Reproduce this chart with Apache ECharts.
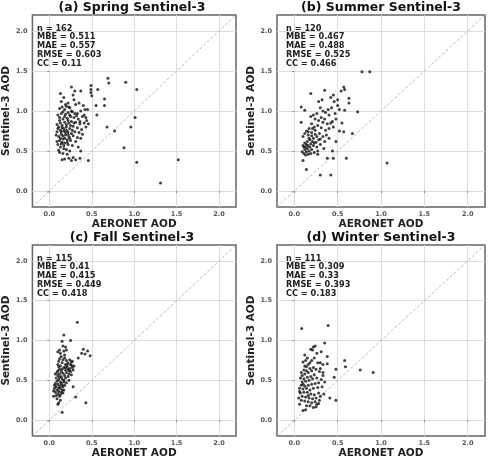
<!DOCTYPE html>
<html>
<head>
<meta charset="utf-8">
<script src="https://cdn.jsdelivr.net/npm/echarts@6/dist/echarts.min.js"></script>
<style>
html, body { margin: 0; padding: 0; background: #fff; }
#main { width: 493px; height: 460px; }
</style>
</head>
<body>
<div id="main"></div>
<script>
// 坐标轴刻度
var tickValues = [0, 0.5, 1.0, 1.5, 2.0];
var axisRange = [-0.2, 2.2];
var panelTitles = ['(a) Spring Sentinel-3', '(b) Summer Sentinel-3', '(c) Fall Sentinel-3', '(d) Winter Sentinel-3'];
var statsSpring = ['n = 162', 'MBE = 0.511', 'MAE = 0.557', 'RMSE = 0.603', 'CC = 0.11'];
var statsSummer = ['n = 120', 'MBE = 0.467', 'MAE = 0.488', 'RMSE = 0.525', 'CC = 0.466'];
var statsFall = ['n = 115', 'MBE = 0.41', 'MAE = 0.415', 'RMSE = 0.449', 'CC = 0.418'];
var statsWinter = ['n = 111', 'MBE = 0.309', 'MAE = 0.33', 'RMSE = 0.393', 'CC = 0.183'];

// [AERONET AOD, Sentinel-3 AOD]
var springPts = [
  [0.13,1.22],[0.17,1.17],[0.26,1.30],[0.30,1.25],[0.37,1.25],[0.28,1.20],[0.29,1.14],[0.22,1.10],[0.20,1.06],[0.15,1.05],
  [0.12,1.03],[0.18,1.02],[0.24,1.04],[0.31,1.08],[0.35,1.10],[0.40,1.07],[0.42,1.02],[0.37,1.00],[0.33,0.97],[0.27,0.99],
  [0.22,0.98],[0.19,0.96],[0.14,0.97],[0.10,0.95],[0.12,0.92],[0.16,0.90],[0.21,0.91],[0.25,0.93],[0.29,0.92],[0.34,0.90],
  [0.39,0.93],[0.44,0.88],[0.41,0.85],[0.36,0.84],[0.31,0.86],[0.26,0.87],[0.23,0.85],[0.18,0.86],[0.13,0.85],[0.09,0.83],
  [0.11,0.80],[0.15,0.79],[0.20,0.80],[0.24,0.78],[0.28,0.81],[0.33,0.79],[0.38,0.77],[0.43,0.80],[0.35,0.73],[0.30,0.74],
  [0.26,0.72],[0.22,0.74],[0.17,0.75],[0.13,0.76],[0.09,0.74],[0.08,0.70],[0.11,0.68],[0.14,0.71],[0.19,0.70],[0.23,0.68],
  [0.28,0.69],[0.33,0.67],[0.37,0.66],[0.31,0.62],[0.25,0.63],[0.21,0.64],[0.16,0.65],[0.12,0.63],[0.09,0.62],[0.10,0.58],
  [0.14,0.59],[0.18,0.60],[0.22,0.58],[0.27,0.57],[0.34,0.55],[0.13,0.55],[0.17,0.53],[0.11,0.51],[0.20,0.52],[0.24,0.50],
  [0.37,0.50],[0.16,0.47],[0.21,0.46],[0.12,0.48],[0.15,0.39],[0.18,0.40],[0.23,0.41],[0.26,0.38],[0.28,0.42],[0.31,0.39],
  [0.36,0.41],[0.46,0.38],[0.15,0.82],[0.17,0.78],[0.19,0.73],[0.16,0.69],[0.14,0.74],[0.18,0.66],[0.20,0.83],[0.22,0.88],
  [0.24,0.95],[0.26,1.00],[0.19,1.08],[0.23,1.05],[0.25,0.82],[0.27,0.76],[0.29,0.85],[0.32,0.94],[0.12,0.88],[0.10,0.78],
  [0.13,0.66],[0.15,0.61],[0.17,0.57],[0.21,0.61],[0.20,0.76],[0.22,0.71],[0.24,0.66],[0.18,0.93],[0.16,0.99],[0.14,1.12],
  [0.36,0.87],[0.30,0.97],[0.39,0.71],[0.49,1.32],[0.49,1.27],[0.49,1.23],[0.50,1.19],[0.57,1.27],[0.65,1.15],[0.65,1.07],
  [0.56,0.95],[0.55,1.07],[0.45,1.02],[0.69,1.41],[0.70,1.35],[0.90,1.36],[1.03,1.27],[1.01,0.92],[0.96,0.80],[0.77,0.75],
  [0.68,0.80],[0.88,0.54],[1.03,0.36],[1.52,0.39],[1.31,0.10],[0.46,0.84],[0.41,0.95],[0.43,0.92]
];
var summerPts = [
  [0.78,1.49],[0.87,1.49],[0.19,1.22],[0.35,1.26],[0.57,1.30],[0.58,1.27],[0.54,1.25],[0.45,1.20],[0.42,1.17],[0.32,1.14],
  [0.28,1.12],[0.63,1.16],[0.63,1.10],[0.73,0.99],[0.67,0.72],[0.57,0.74],[0.55,0.85],[0.58,1.01],[0.08,1.05],[0.12,1.01],
  [0.08,0.86],[0.10,0.68],[0.09,0.49],[0.10,0.38],[0.14,0.27],[0.30,0.20],[0.42,0.20],[0.38,0.41],[0.45,0.41],[0.60,0.41],
  [0.44,0.50],[0.48,0.62],[0.52,0.75],[1.07,0.35],[0.50,1.07],[0.52,1.02],[0.47,0.97],[0.40,0.95],[0.36,0.98],[0.30,1.04],
  [0.26,0.97],[0.22,0.95],[0.19,0.93],[0.24,0.90],[0.28,0.88],[0.33,0.86],[0.38,0.84],[0.42,0.85],[0.45,0.80],[0.40,0.78],
  [0.36,0.76],[0.31,0.79],[0.27,0.82],[0.23,0.80],[0.20,0.84],[0.17,0.78],[0.14,0.75],[0.12,0.72],[0.16,0.70],[0.20,0.73],
  [0.24,0.71],[0.29,0.72],[0.33,0.68],[0.37,0.70],[0.28,0.64],[0.25,0.61],[0.22,0.66],[0.18,0.64],[0.15,0.62],[0.12,0.60],
  [0.10,0.57],[0.13,0.55],[0.16,0.57],[0.19,0.59],[0.22,0.57],[0.26,0.55],[0.30,0.58],[0.34,0.53],[0.20,0.52],[0.17,0.50],
  [0.14,0.49],[0.11,0.47],[0.13,0.45],[0.16,0.46],[0.19,0.47],[0.23,0.48],[0.27,0.46],[0.12,0.52],[0.15,0.53],[0.18,0.55],
  [0.21,0.62],[0.24,0.76],[0.26,0.68],[0.31,0.92],[0.35,0.90],[0.44,0.87],[0.48,0.90],[0.39,1.02],[0.43,1.04],[0.33,1.00],
  [0.20,0.69],[0.17,0.66],[0.23,0.60],[0.14,0.58],[0.11,0.55],[0.16,0.74],[0.30,0.65],[0.35,0.62],[0.21,0.78],[0.46,1.12],
  [0.50,1.14],[0.40,0.66],[0.27,0.50]
];
var fallPts = [
  [0.33,1.23],[0.17,1.07],[0.15,0.99],[0.25,1.00],[0.19,0.92],[0.17,0.87],[0.10,0.86],[0.40,0.89],[0.45,0.87],[0.42,0.83],
  [0.48,0.81],[0.34,0.78],[0.27,0.74],[0.28,0.42],[0.31,0.29],[0.43,0.22],[0.15,0.10],[0.10,0.20],[0.05,0.30],[0.38,0.84],
  [0.12,0.88],[0.14,0.80],[0.18,0.78],[0.20,0.75],[0.16,0.76],[0.12,0.77],[0.22,0.72],[0.25,0.70],[0.19,0.70],[0.15,0.72],
  [0.11,0.74],[0.13,0.68],[0.17,0.66],[0.21,0.67],[0.24,0.65],[0.27,0.66],[0.23,0.62],[0.19,0.63],[0.15,0.64],[0.10,0.62],
  [0.12,0.58],[0.16,0.59],[0.20,0.60],[0.25,0.61],[0.18,0.56],[0.14,0.55],[0.10,0.56],[0.08,0.53],[0.11,0.51],[0.15,0.52],
  [0.19,0.53],[0.22,0.55],[0.13,0.48],[0.09,0.49],[0.07,0.46],[0.10,0.45],[0.14,0.46],[0.17,0.48],[0.12,0.43],[0.08,0.42],
  [0.06,0.40],[0.09,0.38],[0.13,0.40],[0.16,0.42],[0.11,0.36],[0.07,0.35],[0.14,0.35],[0.10,0.33],[0.12,0.30],[0.09,0.27],
  [0.13,0.25],[0.11,0.22],[0.20,0.47],[0.23,0.50],[0.26,0.57],[0.28,0.63],[0.26,0.73],[0.18,0.82],[0.13,0.84],[0.20,0.88],
  [0.16,0.93],[0.11,0.67],[0.07,0.58],[0.18,0.44],[0.15,0.38],[0.08,0.31],[0.17,0.38],[0.21,0.70],[0.24,0.76],[0.10,0.70],
  [0.12,0.64],[0.14,0.61],[0.17,0.50],[0.06,0.44],[0.12,0.54],[0.09,0.60],[0.15,0.44],[0.19,0.66],[0.22,0.64],[0.05,0.37],
  [0.16,0.34],[0.23,0.58],[0.26,0.69],[0.29,0.68],[0.11,0.40],[0.13,0.32]
];
var winterPts = [
  [0.085,1.15],[0.39,1.19],[0.35,0.97],[0.24,0.93],[0.22,0.92],[0.19,0.89],[0.31,0.86],[0.38,0.80],[0.38,0.71],[0.58,0.75],
  [0.59,0.67],[0.76,0.63],[0.91,0.60],[0.48,0.64],[0.46,0.54],[0.48,0.25],[0.41,0.28],[0.34,0.33],[0.10,0.12],[0.13,0.13],
  [0.06,0.20],[0.25,0.17],[0.12,0.82],[0.15,0.78],[0.13,0.75],[0.10,0.73],[0.16,0.70],[0.20,0.75],[0.23,0.78],[0.27,0.72],
  [0.30,0.72],[0.33,0.70],[0.22,0.66],[0.18,0.65],[0.14,0.67],[0.11,0.63],[0.08,0.60],[0.12,0.58],[0.16,0.60],[0.20,0.62],
  [0.25,0.64],[0.29,0.61],[0.33,0.60],[0.23,0.57],[0.19,0.55],[0.15,0.54],[0.11,0.52],[0.07,0.53],[0.09,0.48],[0.13,0.49],
  [0.17,0.50],[0.21,0.52],[0.26,0.53],[0.31,0.51],[0.28,0.47],[0.24,0.46],[0.20,0.45],[0.16,0.44],[0.12,0.43],[0.08,0.44],
  [0.06,0.40],[0.10,0.39],[0.14,0.40],[0.18,0.38],[0.22,0.40],[0.27,0.41],[0.32,0.42],[0.11,0.35],[0.07,0.34],[0.15,0.35],
  [0.19,0.33],[0.23,0.32],[0.28,0.34],[0.09,0.30],[0.13,0.29],[0.17,0.28],[0.21,0.27],[0.25,0.28],[0.30,0.30],[0.08,0.25],
  [0.12,0.24],[0.16,0.23],[0.20,0.22],[0.24,0.23],[0.28,0.21],[0.14,0.18],[0.18,0.18],[0.22,0.16],[0.26,0.20],[0.29,0.25],
  [0.05,0.28],[0.10,0.45],[0.14,0.62],[0.18,0.72],[0.26,0.84],[0.21,0.88],[0.30,0.65],[0.35,0.48],[0.33,0.56],[0.06,0.36],
  [0.16,0.31],[0.12,0.68],[0.09,0.56]
];

var myChart = echarts.init(document.getElementById('main'));
var FONT = 'DejaVu Sans';
var panels = [
  { pts: springPts, stats: statsSpring, left: 28, top: 15 },
  { pts: summerPts, stats: statsSummer, left: 277, top: 15 },
  { pts: fallPts, stats: statsFall, left: 28, top: 245 },
  { pts: winterPts, stats: statsWinter, left: 277, top: 245 }
];
var W = 208, H = 192;

var grid = [], xAxis = [], yAxis = [], series = [], title = [], graphic = [];
panels.forEach(function (p, i) {
  grid.push({ left: p.left, top: p.top, width: W, height: H, show: true,
    borderColor: '#666', borderWidth: 1.5, backgroundColor: '#fff' });
  var common = {
    gridIndex: i, type: 'value', min: axisRange[0], max: axisRange[1],
    nameLocation: 'middle',
    nameTextStyle: { fontFamily: FONT, fontWeight: 'bold', fontSize: 10.5, color: '#222' },
    axisLine: { show: false },
    axisTick: { show: true, length: 2, lineStyle: { color: '#888' }, customValues: tickValues },
    axisLabel: { customValues: tickValues, fontFamily: FONT, fontWeight: 'bold', fontSize: 6.5, color: '#555',
      formatter: function (v) { return v.toFixed(1); } },
    splitLine: { show: true, lineStyle: { color: '#ddd', width: 1 } }
  };
  xAxis.push(echarts.util.merge({ name: 'AERONET AOD', nameGap: 11, axisLabel: { margin: 4 } }, common, true));
  yAxis.push(echarts.util.merge({ name: 'Sentinel-3 AOD', nameGap: 20, axisLabel: { margin: 5 } }, common, true));
  series.push({
    type: 'line', xAxisIndex: i, yAxisIndex: i, silent: true, symbol: 'none',
    data: [[axisRange[0], axisRange[0]], [axisRange[1], axisRange[1]]],
    lineStyle: { color: '#aaa', width: 0.8, type: [3, 2] }, z: 1
  });
  series.push({
    type: 'scatter', xAxisIndex: i, yAxisIndex: i, data: p.pts,
    symbolSize: 3, itemStyle: { color: '#111' }, z: 3
  });
  title.push({
    text: panelTitles[i], left: p.left + W / 2, top: p.top - 14, textAlign: 'center', padding: 0,
    textStyle: { fontFamily: FONT, fontWeight: 'bold', fontSize: 12.5, color: '#111' }
  });
  graphic.push({
    type: 'text', left: p.left + 9, top: p.top + 9, z: 10,
    style: { text: p.stats.join('\n'), fontFamily: FONT, fontWeight: 'bold', fontSize: 8.2,
      lineHeight: 8.8, fill: '#222' }
  });
});

myChart.setOption({
  animation: false,
  backgroundColor: '#fff',
  title: title,
  grid: grid,
  xAxis: xAxis,
  yAxis: yAxis,
  series: series,
  graphic: graphic
});
</script>
</body>
</html>
